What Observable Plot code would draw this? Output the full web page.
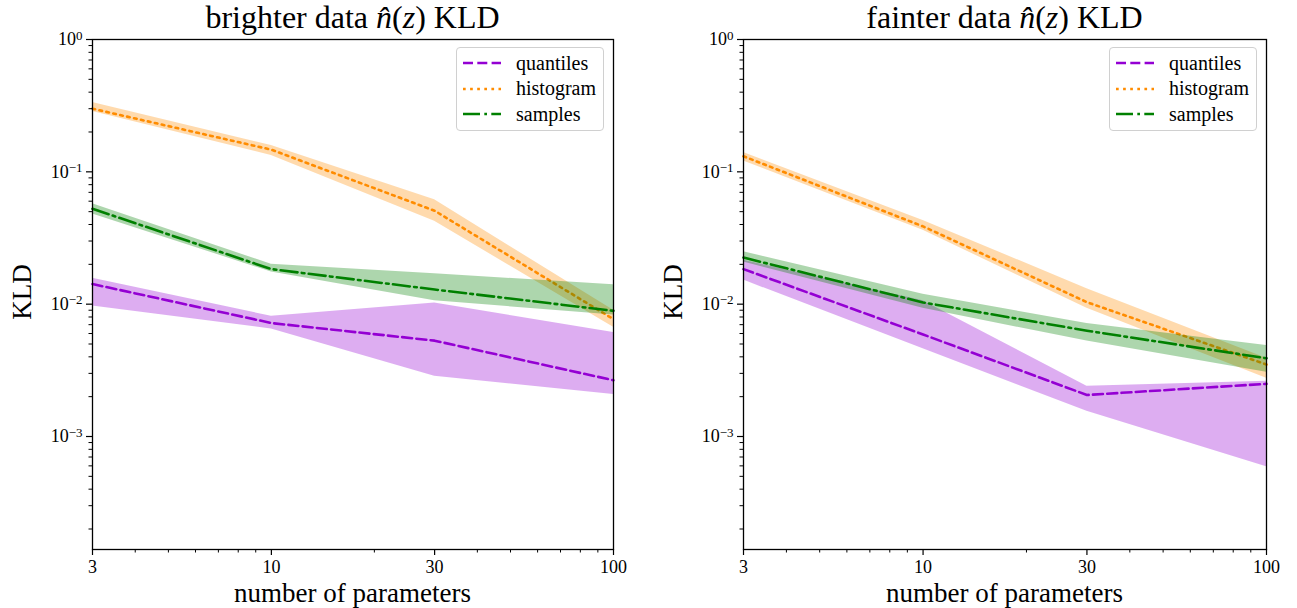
<!DOCTYPE html>
<html><head><meta charset="utf-8">
<script src="https://cdn.jsdelivr.net/npm/d3@7"></script>
<script src="https://cdn.jsdelivr.net/npm/@observablehq/plot@0.6"></script>
<style>
body{margin:0;background:#fff;}
#wrap{position:relative;width:1297px;height:608px;font-family:'Liberation Serif',serif;color:#000;overflow:hidden;}
.panel{position:absolute;top:0;}
.title{position:absolute;top:-1px;font-size:32px;line-height:36px;white-space:nowrap;transform:translateX(-50%);}
.xlab{position:absolute;top:581px;font-size:27px;line-height:24px;white-space:nowrap;transform:translateX(-50%);}
.ylab{position:absolute;font-size:27px;line-height:24px;white-space:nowrap;transform:translate(-50%,-50%) rotate(-90deg);}
.legend{position:absolute;top:47px;width:148px;height:84px;border:1px solid #d0d0d0;border-radius:4px;background:rgba(255,255,255,0.85);box-sizing:border-box;}
.legend .row{position:absolute;left:6px;height:22px;display:flex;align-items:center;font-size:20px;}
.legend .row svg{margin-right:15px;}
</style></head>
<body><div id="wrap"></div>
<script>
const params = [3, 10, 30, 100];
const methods = ["quantiles", "histogram", "samples"];
const colors = ["#9400D3", "#FF8C00", "#008000"];
const dashes = ["10,4.3", "2.7,4.4", "17,4.3,2.7,4.3"];
const yMajorTicks = [1, 0.1, 0.01, 0.001];
const yTickExponents = ["0", "−1", "−2", "−3"];
const xMajorTicks = [3, 10, 30, 100];
const xMinorTicks = [4, 5, 6, 7, 8, 9, 20, 40, 50, 60, 70, 80, 90];
const panelTitles = ["brighter data <i>n̂</i>(<i>z</i>) KLD", "fainter data <i>n̂</i>(<i>z</i>) KLD"];

// brighter data
const brightQuantiles   = [0.0142, 0.0072, 0.0053, 0.00266];
const brightQuantilesLo = [0.0097, 0.0065, 0.00285, 0.00208];
const brightQuantilesHi = [0.0157, 0.0081, 0.0102, 0.0061];
const brightHistogram   = [0.300, 0.147, 0.0508, 0.0077];
const brightHistogramLo = [0.286, 0.133, 0.0423, 0.0067];
const brightHistogramHi = [0.334, 0.158, 0.0614, 0.0090];
const brightSamples     = [0.0526, 0.0184, 0.0129, 0.0089];
const brightSamplesLo   = [0.0480, 0.0175, 0.0106, 0.0083];
const brightSamplesHi   = [0.0574, 0.0200, 0.0170, 0.0140];
// fainter data
const faintQuantiles    = [0.0184, 0.0059, 0.00206, 0.0025];
const faintQuantilesLo  = [0.0152, 0.0046, 0.00155, 0.00059];
const faintQuantilesHi  = [0.0215, 0.0106, 0.0024, 0.00262];
const faintHistogram    = [0.131, 0.0387, 0.01035, 0.0035];
const faintHistogramLo  = [0.121, 0.0362, 0.0093, 0.00276];
const faintHistogramHi  = [0.140, 0.0429, 0.0131, 0.0039];
const faintSamples      = [0.0225, 0.0103, 0.0063, 0.0039];
const faintSamplesLo    = [0.0208, 0.0093, 0.00526, 0.00306];
const faintSamplesHi    = [0.0249, 0.0119, 0.00713, 0.00488];

const yMinorTicks = [];
for (let e = -4; e <= -1; e++) for (let m = 2; m <= 9; m++) { const v = m * Math.pow(10, e); if (v > 1.4e-4) yMinorTicks.push(v); }

const panels = [
  {left: 0, width: 640, mr: 27, series: [
    [brightQuantiles, brightQuantilesLo, brightQuantilesHi],
    [brightHistogram, brightHistogramLo, brightHistogramHi],
    [brightSamples, brightSamplesLo, brightSamplesHi]]},
  {left: 651, width: 646, mr: 31, series: [
    [faintQuantiles, faintQuantilesLo, faintQuantilesHi],
    [faintHistogram, faintHistogramLo, faintHistogramHi],
    [faintSamples, faintSamplesLo, faintSamplesHi]]}
];
const ML = 92, MT = 39, MB = 59;
const wrap = document.getElementById("wrap");
const SVGNS = "http://www.w3.org/2000/svg";

panels.forEach((pn, pi) => {
  const marks = [];
  pn.series.forEach(([mid, lo, hi], si) => {
    const rows = params.map((p, i) => ({p, mid: mid[i], lo: lo[i], hi: hi[i]}));
    marks.push(Plot.areaY(rows, {x: "p", y1: "lo", y2: "hi", fill: colors[si], fillOpacity: 0.32}));
    marks.push(Plot.line(rows, {x: "p", y: "mid", stroke: colors[si], strokeWidth: 2.6, strokeDasharray: dashes[si]}));
  });
  marks.push(Plot.axisY(yMinorTicks, {tickSize: 3.5, tickFormat: () => "", strokeWidth: 1}));
  marks.push(Plot.axisY(yMajorTicks, {tickSize: 6, strokeWidth: 1.2, fontSize: 18, tickPadding: 4,
    tickFormat: d => "10^" + yTickExponents[yMajorTicks.indexOf(d)]}));
  marks.push(Plot.axisX(xMinorTicks, {tickSize: 3.5, tickFormat: () => "", strokeWidth: 1}));
  marks.push(Plot.axisX(xMajorTicks, {tickSize: 6, strokeWidth: 1.2, fontSize: 18, tickPadding: 5, tickFormat: d => String(d)}));
  marks.push(Plot.frame({stroke: "black", strokeWidth: 1.3}));
  const chart = Plot.plot({
    width: pn.width, height: 608,
    marginLeft: ML, marginRight: pn.mr, marginTop: MT, marginBottom: MB,
    style: {fontFamily: "'Liberation Serif', serif", fontSize: "18px", color: "black", background: "white", overflow: "visible"},
    x: {type: "log", domain: [3, 100], label: null},
    y: {type: "log", domain: [1.4e-4, 1], label: null},
    marks
  });
  chart.querySelectorAll("text").forEach(t => {
    const s = t.textContent;
    if (s === "") return;
    t.setAttribute("font-size", "18");
    if (s.startsWith("10^")) {
      const exp = s.slice(3);
      t.textContent = "";
      const base = document.createElementNS(SVGNS, "tspan");
      base.textContent = "10";
      const sup = document.createElementNS(SVGNS, "tspan");
      sup.textContent = exp;
      sup.setAttribute("dy", "-0.42em");
      sup.setAttribute("font-size", "13");
      t.appendChild(base); t.appendChild(sup);
    }
  });
  const div = document.createElement("div");
  div.className = "panel";
  div.style.left = pn.left + "px";
  div.appendChild(chart);
  wrap.appendChild(div);

  const fl = pn.left + ML, fr = pn.left + pn.width - pn.mr, cx = (fl + fr) / 2;
  const t = document.createElement("div"); t.className = "title"; t.style.left = cx + "px"; t.innerHTML = panelTitles[pi]; wrap.appendChild(t);
  const xl = document.createElement("div"); xl.className = "xlab"; xl.style.left = cx + "px"; xl.textContent = "number of parameters"; wrap.appendChild(xl);
  const yl = document.createElement("div"); yl.className = "ylab"; yl.style.left = (pn.left + 22) + "px"; yl.style.top = "292px"; yl.textContent = "KLD"; wrap.appendChild(yl);

  const lg = document.createElement("div"); lg.className = "legend"; lg.style.left = (fr - 157) + "px";
  methods.forEach((m, si) => {
    const row = document.createElement("div"); row.className = "row"; row.style.top = (4 + si * 25.5) + "px";
    row.innerHTML = `<svg width="38" height="10"><line x1="0" y1="5" x2="38" y2="5" stroke="${colors[si]}" stroke-width="2.6" stroke-dasharray="${dashes[si]}"/></svg><span>${m}</span>`;
    lg.appendChild(row);
  });
  wrap.appendChild(lg);
});
</script></body></html>
